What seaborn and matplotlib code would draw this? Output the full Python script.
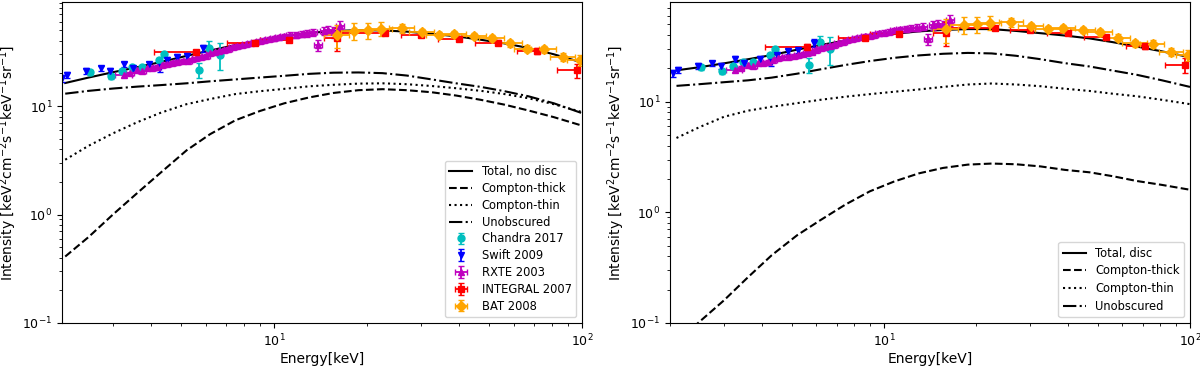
import numpy as np
import matplotlib
matplotlib.use("Agg")
import matplotlib.pyplot as plt
import seaborn as sns

# ---------------- model curves ----------------
energy = [2.1, 2.5, 3.0, 3.6, 4.3, 5.2, 6.2, 7.5, 9.0, 10.8, 13.0, 15.6, 18.8,
          22.5, 27.0, 32.5, 39.0, 47.0, 56.0, 67.0, 81.0, 100.0]

# left panel (no disc)
total_nodisc = [16.3, 18.3, 20.5, 22.8, 25.5, 29.0, 32.5, 36.5, 40.5, 44.0, 47.2, 49.2, 50.0,
                49.8, 48.5, 46.3, 44.0, 40.8, 37.8, 34.3, 30.0, 25.2]
thick_nodisc = [0.41, 0.62, 1.00, 1.58, 2.45, 3.9, 5.5, 7.4, 9.0, 10.6, 12.0, 13.2, 14.0,
                14.3, 14.0, 13.4, 12.5, 11.4, 10.3, 9.1, 7.9, 6.6]
thin_nodisc = [3.2, 4.3, 5.6, 7.1, 8.7, 10.4, 11.6, 12.9, 13.7, 14.4, 15.2, 15.7, 16.1,
               16.2, 15.9, 15.3, 14.6, 13.8, 12.9, 11.8, 10.4, 8.8]
unobs_nodisc = [13.0, 13.8, 14.5, 15.1, 15.6, 16.2, 16.9, 17.6, 18.3, 19.0, 19.8, 20.3, 20.4,
                20.1, 19.1, 17.6, 16.2, 15.0, 13.7, 12.3, 10.6, 8.6]

# right panel (disc)
total_disc = [19.2, 20.5, 22.2, 24.2, 26.4, 29.5, 32.5, 35.7, 38.7, 41.0, 43.2, 44.5, 45.3,
              45.3, 43.6, 41.6, 39.6, 37.3, 34.5, 31.5, 28.5, 25.2]
thick_disc = [0.067, 0.103, 0.16, 0.26, 0.41, 0.62, 0.85, 1.18, 1.55, 1.90, 2.25, 2.52, 2.70,
              2.76, 2.72, 2.60, 2.42, 2.30, 2.12, 1.92, 1.77, 1.60]
thin_disc = [4.7, 5.9, 7.3, 8.3, 9.0, 9.7, 10.4, 11.1, 11.7, 12.3, 12.9, 13.6, 14.3,
             14.6, 14.3, 13.8, 13.1, 12.5, 11.8, 11.2, 10.4, 9.5]
unobs_disc = [13.9, 14.4, 15.0, 15.6, 16.5, 17.9, 19.6, 21.5, 23.3, 24.9, 26.2, 27.1, 27.6,
              27.3, 26.0, 24.2, 22.3, 20.8, 19.1, 17.5, 15.6, 13.6]

# ---------------- observations ----------------
chandra_x = [2.53, 2.95, 3.21, 3.46, 3.73, 4.23, 4.40, 5.69, 6.17, 6.66]
chandra_y = [20.5, 18.9, 21.1, 23.0, 22.9, 26.5, 29.9, 21.5, 34.5, 29.8]
chandra_yerr = [1.0, 1.0, 1.0, 1.0, 1.0, 1.2, 1.5, 3.2, 5.0, 8.3]

swift_x = [2.05, 2.13, 2.46, 2.75, 2.94, 3.25, 3.48, 3.94, 4.27, 4.49, 4.86, 5.22, 5.90]
swift_y = [18.0, 19.3, 21.0, 22.2, 21.0, 24.2, 22.2, 24.2, 23.0, 26.5, 28.5, 29.1, 34.0]
swift_yerr = [1.2, 1.2, 1.2, 1.3, 1.3, 1.5, 1.4, 1.5, 2.2, 1.6, 1.7, 1.8, 2.8]

rxte_x = [3.25, 3.40, 3.59, 3.73, 3.87, 4.02, 4.17, 4.33, 4.50, 4.66, 4.85, 5.08, 5.25, 5.42,
          5.60, 5.80, 6.00, 6.21, 6.43, 6.65, 6.86, 7.10, 7.35, 7.60, 7.85, 8.10, 8.40, 8.70,
          9.00, 9.30, 9.65, 10.0, 10.4, 10.8, 11.3, 11.8, 12.3, 12.8, 13.4, 13.9, 14.5, 15.0,
          15.7, 16.4]
rxte_y = [19.3, 20.0, 21.5, 21.0, 22.2, 22.5, 23.0, 24.0, 24.6, 25.1, 25.5, 25.9, 26.2, 26.9,
          27.5, 28.3, 29.2, 30.6, 31.2, 32.0, 32.8, 33.6, 34.8, 35.8, 36.6, 37.4, 38.5, 39.1,
          39.5, 40.4, 41.5, 42.1, 43.0, 44.0, 45.1, 45.5, 46.2, 46.8, 47.8, 36.5, 49.4, 50.2,
          48.0, 54.6]
rxte_yerr = [0.8, 0.8, 0.8, 0.8, 0.8, 0.9, 0.9, 0.9, 0.9, 1.0, 1.0, 1.0, 1.0, 1.0,
             1.1, 1.1, 1.1, 1.2, 1.2, 1.2, 1.3, 1.3, 1.4, 1.4, 1.5, 1.5, 1.6, 1.6,
             1.7, 1.8, 1.9, 2.0, 2.2, 2.4, 2.6, 2.8, 3.0, 3.3, 3.6, 4.0, 4.5, 5.0, 5.5, 6.0]
rxte_xerr = [0.2, 0.1, 0.11, 0.11, 0.12, 0.12, 0.13, 0.13, 0.14, 0.14, 0.15, 0.15, 0.16, 0.16,
             0.17, 0.17, 0.18, 0.19, 0.19, 0.2, 0.21, 0.21, 0.22, 0.23, 0.24, 0.24, 0.25, 0.26,
             0.27, 0.28, 0.29, 0.3, 0.31, 0.32, 0.34, 0.35, 0.37, 0.38, 0.4, 0.42, 0.44, 0.45,
             0.47, 0.49]

integral_x = [5.59, 8.70, 11.2, 16.0, 23.0, 29.9, 40.0, 53.2, 71.5, 96.5]
integral_y = [31.4, 37.8, 40.8, 42.0, 46.8, 44.7, 41.8, 38.5, 32.0, 21.4]
integral_yerr = [1.5, 1.5, 1.6, 10.0, 1.8, 1.8, 1.8, 1.8, 2.0, 3.2]
integral_xerr_lo = [1.5, 1.64, 2.2, 1.5, 6.6, 4.1, 6.0, 8.1, 9.8, 13.7]
integral_xerr_hi = [0, 0, 0, 0, 0, 0, 0, 0, 0, 0]

bat_x = [16.0, 18.2, 20.2, 22.2, 26.1, 30.2, 34.3, 38.4, 44.7, 51.0, 58.3, 66.2, 75.5, 87.0, 98.7]
bat_y = [45.0, 49.5, 50.0, 51.5, 52.5, 48.0, 45.5, 46.0, 44.5, 42.5, 38.0, 33.7, 33.3, 28.3, 26.3]
bat_yerr = [11, 9, 8.5, 7.5, 5, 3.5, 3, 3, 3, 3, 3, 2.5, 2.5, 2.5, 3]
bat_xerr = [1.5, 1.7, 1.8, 2.0, 2.4, 2.8, 3.2, 3.6, 4.2, 4.8, 5.5, 6.2, 7.0, 8.0, 9.0]

plt.rcParams['font.family'] = ['DejaVu Sans']

fig = plt.figure(figsize=(12, 3.69), dpi=100)
axL = fig.add_axes([62 / 1200, 1 - 323 / 369, 520 / 1200, 321 / 369])
axR = fig.add_axes([670 / 1200, 1 - 323 / 369, 520 / 1200, 321 / 369])

def draw_models(ax, total, thick, thin, unobs, total_label):
    sns.lineplot(x=energy, y=total, ax=ax, color='k', linestyle='-', lw=1.5,
                 label=total_label, estimator=None, sort=False)
    sns.lineplot(x=energy, y=thick, ax=ax, color='k', linestyle='--', lw=1.5,
                 label='Compton-thick', estimator=None, sort=False)
    sns.lineplot(x=energy, y=thin, ax=ax, color='k', linestyle=':', lw=1.5,
                 label='Compton-thin', estimator=None, sort=False)
    sns.lineplot(x=energy, y=unobs, ax=ax, color='k', linestyle='-.', lw=1.5,
                 label='Unobscured', estimator=None, sort=False)

def draw_data(ax, labels=True):
    kw = dict(ms=5, capsize=2.5, elinewidth=1.3, lw=0)
    ax.errorbar(chandra_x, chandra_y, yerr=chandra_yerr, fmt='o', color='c',
                label='Chandra 2017' if labels else None, **kw)
    ax.errorbar(swift_x, swift_y, yerr=swift_yerr, fmt='v', color='b',
                label='Swift 2009' if labels else None, **kw)
    ax.errorbar(rxte_x, rxte_y, yerr=rxte_yerr, xerr=rxte_xerr, fmt='^', color='m',
                label='RXTE 2003' if labels else None, **kw)
    ax.errorbar(integral_x, integral_y, yerr=integral_yerr,
                xerr=[integral_xerr_lo, integral_xerr_hi], fmt='s', color='r',
                label='INTEGRAL 2007' if labels else None, **kw)
    ax.errorbar(bat_x, bat_y, yerr=bat_yerr, xerr=bat_xerr, fmt='D', color='orange',
                label='BAT 2008' if labels else None, **kw)

for ax in (axL, axR):
    ax.set_xscale('log')
    ax.set_yscale('log')

draw_models(axL, total_nodisc, thick_nodisc, thin_nodisc, unobs_nodisc, 'Total, no disc')
draw_data(axL, labels=True)
draw_models(axR, total_disc, thick_disc, thin_disc, unobs_disc, 'Total, disc')
draw_data(axR, labels=False)

axL.set_xlim(2.05, 100)
axL.set_ylim(0.1, 91)
axR.set_xlim(2.0, 100)
axR.set_ylim(0.1, 79.6)

ylabel = r'Intensity [keV$^2$cm$^{-2}$s$^{-1}$keV$^{-1}$sr$^{-1}$]'
for ax in (axL, axR):
    ax.set_xlabel('Energy[keV]', fontsize=10, labelpad=2)
    ax.set_ylabel(ylabel, fontsize=10, labelpad=2)
    ax.tick_params(labelsize=9)
    for s in ax.spines.values():
        s.set_color('k')

axL.legend(loc='lower right', fontsize=8.3, labelspacing=0.33)
axR.legend(loc='lower right', fontsize=8.3, labelspacing=0.4)

fig.savefig('out.png', dpi=100)
